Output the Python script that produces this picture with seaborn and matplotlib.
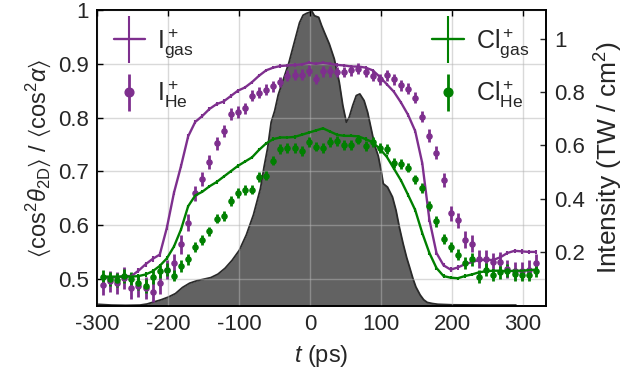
import matplotlib
matplotlib.use('Agg')
import matplotlib.pyplot as plt
from matplotlib.legend_handler import HandlerErrorbar
import seaborn as sns

# delay steps (ps)
t = [-292, -282, -272, -262, -252, -242, -232, -222, -212, -202,
     -192, -182, -172, -162, -152, -142, -132, -122, -112, -102,
     -92, -82, -72, -62, -52, -42, -32, -22, -12, -2,
     8, 18, 28, 38, 48, 58, 68, 78, 88, 98,
     108, 118, 128, 138, 148, 158, 168, 178, 188, 198,
     208, 218, 228, 238, 248, 258, 268, 278, 288, 298,
     308, 318]

i_gas = [0.502, 0.502, 0.503, 0.505, 0.505, 0.515, 0.527, 0.537, 0.545, 0.595,
         0.660, 0.710, 0.765, 0.792, 0.803, 0.816, 0.825, 0.830, 0.840, 0.850,
         0.856, 0.866, 0.878, 0.888, 0.893, 0.896, 0.897, 0.898, 0.899, 0.902,
         0.900, 0.902, 0.900, 0.898, 0.897, 0.895, 0.895, 0.893, 0.888, 0.876,
         0.862, 0.848, 0.828, 0.805, 0.775, 0.715, 0.610, 0.548, 0.525, 0.517,
         0.521, 0.527, 0.531, 0.535, 0.535, 0.535, 0.540, 0.548, 0.552, 0.551,
         0.550, 0.550]
i_gas_err = [0.005, 0.005, 0.005, 0.005, 0.005, 0.005, 0.005, 0.005, 0.005, 0.005,
             0.004, 0.004, 0.004, 0.004, 0.004, 0.004, 0.004, 0.004, 0.004, 0.004,
             0.003, 0.003, 0.003, 0.003, 0.003, 0.003, 0.003, 0.003, 0.003, 0.003,
             0.003, 0.003, 0.003, 0.003, 0.003, 0.003, 0.003, 0.003, 0.003, 0.003,
             0.003, 0.003, 0.003, 0.003, 0.003, 0.004, 0.004, 0.004, 0.004, 0.004,
             0.004, 0.004, 0.004, 0.004, 0.004, 0.004, 0.004, 0.004, 0.004, 0.004,
             0.004, 0.004]

i_he = [0.489, 0.495, 0.492, 0.501, 0.483, 0.486, 0.483, 0.476, 0.492, 0.517,
        0.529, 0.564, 0.604, 0.659, 0.685, 0.718, 0.752, 0.775, 0.806, 0.810,
        0.817, 0.841, 0.846, 0.852, 0.858, 0.866, 0.878, 0.880, 0.880, 0.887,
        0.872, 0.886, 0.886, 0.885, 0.885, 0.888, 0.891, 0.885, 0.878, 0.871,
        0.879, 0.871, 0.860, 0.854, 0.837, 0.802, 0.766, 0.735, 0.684, 0.622,
        0.609, 0.573, 0.565, 0.537, 0.537, 0.531, 0.532, 0.518, 0.514, 0.514,
        0.517, 0.529]
i_he_err = [0.020, 0.020, 0.020, 0.020, 0.020, 0.020, 0.020, 0.020, 0.020, 0.018,
            0.018, 0.017, 0.016, 0.014, 0.013, 0.013, 0.012, 0.012, 0.011, 0.011,
            0.011, 0.010, 0.010, 0.010, 0.010, 0.010, 0.010, 0.010, 0.010, 0.010,
            0.010, 0.010, 0.010, 0.010, 0.010, 0.010, 0.010, 0.010, 0.010, 0.010,
            0.010, 0.010, 0.010, 0.010, 0.010, 0.011, 0.012, 0.012, 0.013, 0.014,
            0.014, 0.015, 0.016, 0.017, 0.017, 0.017, 0.017, 0.017, 0.017, 0.017,
            0.017, 0.017]

cl_gas = [0.504, 0.504, 0.504, 0.504, 0.504, 0.505, 0.508, 0.514, 0.524, 0.538,
          0.560, 0.592, 0.635, 0.655, 0.662, 0.672, 0.680, 0.690, 0.700, 0.710,
          0.718, 0.726, 0.740, 0.752, 0.760, 0.763, 0.763, 0.764, 0.768, 0.772,
          0.776, 0.780, 0.774, 0.768, 0.766, 0.766, 0.765, 0.760, 0.754, 0.742,
          0.727, 0.705, 0.683, 0.656, 0.628, 0.585, 0.548, 0.520, 0.505, 0.502,
          0.501, 0.505, 0.508, 0.512, 0.514, 0.515, 0.515, 0.514, 0.515, 0.515,
          0.516, 0.517]
cl_gas_err = [0.004, 0.004, 0.004, 0.004, 0.004, 0.004, 0.004, 0.004, 0.004, 0.004,
              0.003, 0.003, 0.003, 0.003, 0.003, 0.003, 0.003, 0.003, 0.003, 0.003,
              0.003, 0.003, 0.003, 0.003, 0.003, 0.003, 0.003, 0.003, 0.003, 0.003,
              0.003, 0.003, 0.003, 0.003, 0.003, 0.003, 0.003, 0.003, 0.003, 0.003,
              0.003, 0.003, 0.003, 0.003, 0.003, 0.003, 0.003, 0.003, 0.003, 0.003,
              0.003, 0.003, 0.003, 0.003, 0.003, 0.003, 0.003, 0.003, 0.003, 0.003,
              0.003, 0.003]

cl_he = [0.503, 0.500, 0.498, 0.505, 0.500, 0.492, 0.486, 0.504, 0.514, 0.517,
         0.506, 0.523, 0.536, 0.559, 0.572, 0.588, 0.612, 0.617, 0.645, 0.659,
         0.665, 0.666, 0.690, 0.692, 0.720, 0.741, 0.744, 0.743, 0.738, 0.754,
         0.746, 0.744, 0.754, 0.756, 0.749, 0.749, 0.759, 0.747, 0.754, 0.743,
         0.741, 0.716, 0.713, 0.707, 0.685, 0.669, 0.635, 0.607, 0.574, 0.559,
         0.545, 0.529, 0.536, 0.504, 0.517, 0.507, 0.512, 0.515, 0.508, 0.507,
         0.507, 0.515]
cl_he_err = [0.013, 0.013, 0.013, 0.013, 0.013, 0.013, 0.013, 0.013, 0.012, 0.012,
             0.011, 0.011, 0.010, 0.010, 0.010, 0.009, 0.009, 0.009, 0.009, 0.009,
             0.009, 0.009, 0.009, 0.009, 0.009, 0.009, 0.009, 0.009, 0.009, 0.009,
             0.009, 0.009, 0.009, 0.009, 0.009, 0.009, 0.009, 0.009, 0.009, 0.009,
             0.009, 0.009, 0.009, 0.009, 0.009, 0.009, 0.009, 0.010, 0.010, 0.010,
             0.011, 0.011, 0.012, 0.012, 0.012, 0.012, 0.012, 0.012, 0.012, 0.012,
             0.012, 0.012]

# laser intensity profile
t_pulse = [-300, -280, -260, -240, -230, -220, -210, -200, -190, -180,
           -170, -160, -150, -140, -130, -120, -110, -100, -90, -80,
           -70, -65, -60, -55, -50, -45, -40, -35, -30, -25,
           -20, -15, -10, -5, 0, 2, 6, 12, 16, 20,
           27, 34, 41, 46, 51, 55, 60, 65, 70, 76,
           81, 86, 91, 96, 100, 103, 109, 116, 121, 126,
           131, 136, 140, 145, 149, 155, 160, 165, 172, 180,
           200, 250, 290]
intensity = [0.005, 0.002, 0.001, 0.002, 0.006, 0.014, 0.022, 0.032, 0.045, 0.068,
             0.084, 0.093, 0.099, 0.105, 0.118, 0.140, 0.170, 0.207, 0.265, 0.340,
             0.440, 0.520, 0.590, 0.687, 0.730, 0.790, 0.830, 0.870, 0.910, 0.960,
             1.010, 1.060, 1.088, 1.095, 1.100, 1.105, 1.086, 1.080, 1.050, 1.024,
             0.980, 0.924, 0.837, 0.750, 0.687, 0.706, 0.750, 0.787, 0.793, 0.768,
             0.724, 0.662, 0.600, 0.560, 0.506, 0.457, 0.444, 0.407, 0.357, 0.290,
             0.232, 0.180, 0.145, 0.100, 0.070, 0.040, 0.022, 0.012, 0.008, 0.005,
             0.003, 0.002, 0.002]

PURPLE = '#7e2f8e'
GREEN = '#008000'

sns.set_theme(style='white')
plt.rcParams['font.family'] = ['Liberation Sans', 'DejaVu Sans']
plt.rcParams['axes.unicode_minus'] = False
plt.rcParams['mathtext.fontset'] = 'custom'
plt.rcParams['mathtext.rm'] = 'Liberation Sans'
plt.rcParams['mathtext.it'] = 'Liberation Sans:italic'
plt.rcParams['mathtext.fallback'] = 'stixsans'

fig = plt.figure(figsize=(6.28, 3.75), dpi=100)
ax = fig.add_axes([0.155, 0.185, 0.714, 0.788])
ax2 = ax.twinx()

# intensity on right axis, drawn behind the alignment data
ax2.fill_between(t_pulse, intensity, 0, color='#626262', lw=0)
sns.lineplot(x=t_pulse, y=intensity, ax=ax2, color='#2a2a2a', lw=1.3, sort=False)
ax2.set_ylim(0, 1.107)
ax2.set_yticks([0.2, 0.4, 0.6, 0.8, 1.0])
ax2.set_yticklabels(['0.2', '0.4', '0.6', '0.8', '1'])
ax2.set_ylabel('Intensity (TW / cm$^2$)', fontsize=19, labelpad=6)

ax.set_zorder(ax2.get_zorder() + 1)
ax.patch.set_visible(False)

h1 = ax.errorbar(t, i_gas, yerr=i_gas_err, fmt='-', color=PURPLE, lw=1.7,
                 elinewidth=1.5)
h2 = ax.errorbar(t, i_he, yerr=i_he_err, fmt='o', color=PURPLE, markersize=3.7,
                 elinewidth=2.0)
h3 = ax.errorbar(t, cl_gas, yerr=cl_gas_err, fmt='-', color=GREEN, lw=1.7,
                 elinewidth=1.5)
h4 = ax.errorbar(t, cl_he, yerr=cl_he_err, fmt='o', color=GREEN, markersize=3.7,
                 elinewidth=2.0)

ax.set_xlim(-300, 332)
ax.set_ylim(0.45, 1.0)
ax.set_xticks([-300, -200, -100, 0, 100, 200, 300])
ax.set_yticks([0.5, 0.6, 0.7, 0.8, 0.9, 1.0])
ax.set_yticklabels(['0.5', '0.6', '0.7', '0.8', '0.9', '1'])
ax.grid(True, color='#b5b5b5', alpha=0.5, lw=1.0)
ax.set_xlabel('$t$ (ps)', fontsize=17, labelpad=6)
ax.set_ylabel(r'$\langle\mathrm{cos}^2\theta_{\mathrm{2D}}\rangle$ / $\langle\mathrm{cos}^2\alpha\rangle$',
              fontsize=17, labelpad=4)

for a in (ax, ax2):
    for s in a.spines.values():
        s.set_color('black')
        s.set_linewidth(1.2)
ax.tick_params(axis='both', direction='in', labelsize=16, length=4, width=1,
               top=True, right=False, color='black', pad=6)
ax2.tick_params(axis='y', direction='in', labelsize=16, length=4, width=1, pad=6)

hmap = {h1: HandlerErrorbar(xerr_size=0.6, yerr_size=0.95),
        h2: HandlerErrorbar(xerr_size=0.6, yerr_size=0.75),
        h3: HandlerErrorbar(xerr_size=0.6, yerr_size=0.95),
        h4: HandlerErrorbar(xerr_size=0.6, yerr_size=0.75)}
leg1 = ax.legend([h1, h2], [r'I$^+_{\mathrm{gas}}$', r'I$^+_{\mathrm{He}}$'],
                 loc='upper left', frameon=False, fontsize=18, handlelength=1.25,
                 labelspacing=0.75, borderaxespad=0.25, handletextpad=0.5,
                 markerscale=1.7, handler_map=hmap)
ax.add_artist(leg1)
ax.legend([h3, h4], [r'Cl$^+_{\mathrm{gas}}$', r'Cl$^+_{\mathrm{He}}$'],
          loc='upper right', frameon=False, fontsize=18, handlelength=1.25,
          labelspacing=0.75, borderaxespad=0.25, handletextpad=0.5,
          markerscale=1.7, handler_map=hmap)

fig.savefig('out.png', dpi=100)
